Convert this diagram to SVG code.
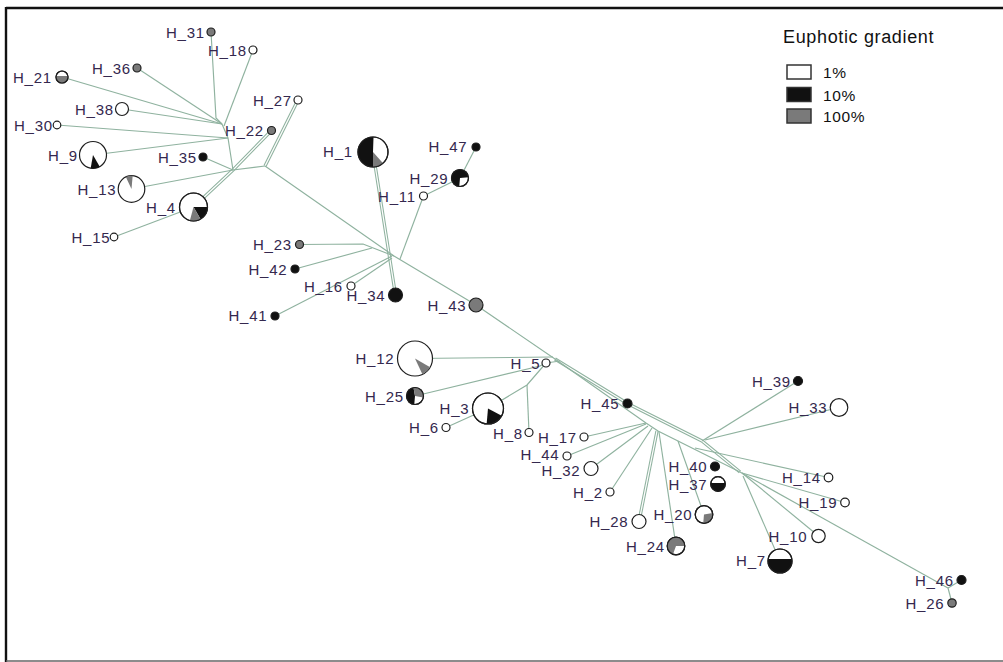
<svg xmlns="http://www.w3.org/2000/svg" width="1003" height="662" viewBox="0 0 1003 662">
<style>
.e{fill:none;stroke:#8fb29f;stroke-width:1.15}
.d1{fill:none;stroke:#8fb29f;stroke-width:3.3}
.d2{fill:none;stroke:#ffffff;stroke-width:1.2}
.n{stroke:#1e1e1e;stroke-width:1.2}
.w{fill:#ffffff}
.k{fill:#111111}
.g{fill:#7a7a7a}
.pk{fill:#111111;stroke:none}
.pg{fill:#7a7a7a;stroke:none}
.lb{font-family:"Liberation Sans",Arial,sans-serif;font-size:15px;letter-spacing:0.8px;fill:#34284e;text-anchor:end}
.lg{font-family:"Liberation Sans",Arial,sans-serif;fill:#111111}
</style>
<rect x="0" y="0" width="1003" height="662" fill="#ffffff"/>
<g id="frame">
<line x1="6" y1="8" x2="1003" y2="8" stroke="#111" stroke-width="2.4"/>
<line x1="6" y1="7" x2="6" y2="662" stroke="#111" stroke-width="2.4"/>
<line x1="6" y1="661" x2="1003" y2="661" stroke="#666" stroke-width="1.6"/>
</g>
<g id="connectors">
<g id="double-under">
<path class="d1" d="M193.5,207 L233,170 L271.5,130.5"/>
<path class="d1" d="M298,100 L265,166"/>
<path class="d1" d="M373,152 L395.5,295"/>
<path class="d1" d="M639,521.5 L657,431"/>
<path class="d1" d="M555,359 L627.5,403.5 L702,441 L740,472"/>
</g>
<g id="double-over">
<path class="d2" d="M193.5,207 L233,170 L271.5,130.5"/>
<path class="d2" d="M298,100 L265,166"/>
<path class="d2" d="M373,152 L395.5,295"/>
<path class="d2" d="M639,521.5 L657,431"/>
<path class="d2" d="M555,359 L627.5,403.5 L702,441 L740,472"/>
</g>
<path class="e" d="M211,32 L216,118 L222,124"/>
<path class="e" d="M137,68 L222,124"/>
<path class="e" d="M62,77 L222,124"/>
<path class="e" d="M122,109 L222,124"/>
<path class="e" d="M253,50 L224,126"/>
<path class="e" d="M222,124 L228,138 L233,170"/>
<path class="e" d="M57,125 L228,138"/>
<path class="e" d="M93,155 L228,138"/>
<path class="e" d="M203,157 L233,170"/>
<path class="e" d="M131.5,189 L233,170"/>
<path class="e" d="M114,237 L193.5,207"/>
<path class="e" d="M233,170 L265,166"/>
<path class="e" d="M265,166 L394,256 L476,305 L555,359"/>
<path class="e" d="M299.5,244.5 L363,244 L394,256"/>
<path class="e" d="M295,269 L372,248"/>
<path class="e" d="M275,316 L392,256"/>
<path class="e" d="M351,286 L392,258"/>
<path class="e" d="M423.5,196 L400,259"/>
<path class="e" d="M460,178 L423.5,196"/>
<path class="e" d="M476,147 L460,178"/>
<path class="e" d="M415,358.5 L553,357"/>
<path class="e" d="M546,363 L560,361"/>
<path class="e" d="M415,396 L540,366 L546,363"/>
<path class="e" d="M488,408.5 L527,385 L546,363"/>
<path class="e" d="M529,432.5 L527,385"/>
<path class="e" d="M446,427.5 L488,408.5"/>
<path class="e" d="M555,359 L646,423 L658,431 L740,472"/>
<path class="e" d="M584,437 L646,423"/>
<path class="e" d="M567,456 L646,424"/>
<path class="e" d="M591,468.5 L648,426"/>
<path class="e" d="M610,492 L652,428"/>
<path class="e" d="M676,546 L659,432"/>
<path class="e" d="M704,514.5 L678,441"/>
<path class="e" d="M798,381 L702,441"/>
<path class="e" d="M839,407.5 L705,440"/>
<path class="e" d="M828.5,477.5 L695,448"/>
<path class="e" d="M845,502.5 L742,473"/>
<path class="e" d="M818.5,536 L742,473"/>
<path class="e" d="M780,561 L743,476"/>
<path class="e" d="M740,472 L948,588"/>
<path class="e" d="M948,588 L961.5,580"/>
<path class="e" d="M948,588 L952,603"/>
</g>
<g id="nodes">
<g id="H_31"><circle class="n g" cx="211" cy="32" r="4"/><text class="lb" x="205" y="37.5">H_31</text></g>
<g id="H_18"><circle class="n w" cx="253" cy="50" r="4"/><text class="lb" x="247" y="55.5">H_18</text></g>
<g id="H_36"><circle class="n g" cx="137" cy="68" r="4"/><text class="lb" x="131" y="73.5">H_36</text></g>
<g id="H_21"><circle class="n w" cx="62" cy="77" r="6"/><path class="pg" transform="translate(62,77)" d="M5.92,-1A6,6 0 1 1 -5.92,-1Z"/><circle class="n" fill="none" cx="62" cy="77" r="6"/><text class="lb" x="52" y="82.5">H_21</text></g>
<g id="H_38"><circle class="n w" cx="122" cy="109" r="6.5"/><text class="lb" x="114" y="114.5">H_38</text></g>
<g id="H_30"><circle class="n w" cx="57" cy="125" r="3.8"/><text class="lb" x="53" y="130.5">H_30</text></g>
<g id="H_27"><circle class="n w" cx="298" cy="100" r="4"/><text class="lb" x="292" y="105.5">H_27</text></g>
<g id="H_22"><circle class="n g" cx="271.5" cy="130.5" r="4"/><text class="lb" x="264" y="136">H_22</text></g>
<g id="H_9"><circle class="n w" cx="93" cy="155" r="13.5"/><path class="pk" transform="translate(93,155)" d="M0,0L6.75,11.69A13.5,13.5 0 0 1 -2.34,13.29Z"/><text class="lb" x="78" y="160.5">H_9</text></g>
<g id="H_35"><circle class="n k" cx="203" cy="157" r="4"/><text class="lb" x="197" y="162.5">H_35</text></g>
<g id="H_13"><circle class="n w" cx="131.5" cy="189" r="13.3"/><path class="pg" transform="translate(131.5,189)" d="M0,0L-5.62,-12.05A13.3,13.3 0 0 1 1.16,-13.25Z"/><text class="lb" x="116.5" y="194.5">H_13</text></g>
<g id="H_4"><circle class="n w" cx="193.5" cy="207" r="14"/><path class="pk" transform="translate(193.5,207)" d="M0,0L14,0A14,14 0 0 1 7,12.12Z"/><path class="pg" transform="translate(193.5,207)" d="M0,0L7,12.12A14,14 0 0 1 -3.62,13.52Z"/><circle class="n" fill="none" cx="193.5" cy="207" r="14"/><text class="lb" x="176" y="213">H_4</text></g>
<g id="H_15"><circle class="n w" cx="114" cy="237" r="3.8"/><text class="lb" x="110.5" y="242.5">H_15</text></g>
<g id="H_1"><circle class="n w" cx="373" cy="152" r="15"/><path class="pk" transform="translate(373,152)" d="M0,0L0,15A15,15 0 1 1 0.52,-14.99Z"/><path class="pg" transform="translate(373,152)" d="M0,0L10.04,11.15A15,15 0 0 1 0,15Z"/><circle class="n" fill="none" cx="373" cy="152" r="15"/><text class="lb" x="353" y="157">H_1</text></g>
<g id="H_47"><circle class="n k" cx="476" cy="147" r="4"/><text class="lb" x="467.5" y="152">H_47</text></g>
<g id="H_29"><circle class="n w" cx="460" cy="178" r="8.5"/><path class="pk" transform="translate(460,178)" d="M0,0L-0.74,8.47A8.5,8.5 0 1 1 8.47,-0.74Z"/><circle class="n" fill="none" cx="460" cy="178" r="8.5"/><text class="lb" x="448.5" y="183.5">H_29</text></g>
<g id="H_11"><circle class="n w" cx="423.5" cy="196" r="4"/><text class="lb" x="416" y="201.5">H_11</text></g>
<g id="H_23"><circle class="n g" cx="299.5" cy="244.5" r="4"/><text class="lb" x="292" y="250">H_23</text></g>
<g id="H_42"><circle class="n k" cx="295" cy="269" r="4"/><text class="lb" x="287.5" y="274.5">H_42</text></g>
<g id="H_16"><circle class="n w" cx="351" cy="286" r="4"/><text class="lb" x="343" y="291.5">H_16</text></g>
<g id="H_34"><circle class="n k" cx="395.5" cy="295" r="7"/><text class="lb" x="385.5" y="300.5">H_34</text></g>
<g id="H_41"><circle class="n k" cx="275" cy="316" r="4"/><text class="lb" x="267.5" y="321">H_41</text></g>
<g id="H_43"><circle class="n g" cx="476" cy="305" r="7"/><text class="lb" x="466.5" y="310.5">H_43</text></g>
<g id="H_12"><circle class="n w" cx="415" cy="358.5" r="17.5"/><path class="pg" transform="translate(415,358.5)" d="M0,0L15.16,8.75A17.5,17.5 0 0 1 7.4,15.86Z"/><text class="lb" x="394.5" y="364">H_12</text></g>
<g id="H_5"><circle class="n w" cx="546" cy="363" r="4"/><text class="lb" x="540.5" y="368.5">H_5</text></g>
<g id="H_25"><circle class="n w" cx="415" cy="396" r="8.5"/><path class="pk" transform="translate(415,396)" d="M0,0L-0.74,8.47A8.5,8.5 0 0 1 -1.48,-8.37Z"/><path class="pg" transform="translate(415,396)" d="M0,0L-1.48,-8.37A8.5,8.5 0 0 1 8.37,1.48Z"/><circle class="n" fill="none" cx="415" cy="396" r="8.5"/><text class="lb" x="404" y="401.5">H_25</text></g>
<g id="H_3"><circle class="n w" cx="488" cy="408.5" r="15.5"/><path class="pk" transform="translate(488,408.5)" d="M0,0L13.69,7.28A15.5,15.5 0 0 1 -1.35,15.44Z"/><circle class="n" fill="none" cx="488" cy="408.5" r="15.5"/><text class="lb" x="469.5" y="413.5">H_3</text></g>
<g id="H_6"><circle class="n w" cx="446" cy="427.5" r="4"/><text class="lb" x="439" y="433">H_6</text></g>
<g id="H_8"><circle class="n w" cx="529" cy="432.5" r="4"/><text class="lb" x="523" y="439">H_8</text></g>
<g id="H_45"><circle class="n k" cx="627.5" cy="403.5" r="4.5"/><text class="lb" x="619.5" y="408.5">H_45</text></g>
<g id="H_17"><circle class="n w" cx="584" cy="437" r="4"/><text class="lb" x="577" y="442.5">H_17</text></g>
<g id="H_44"><circle class="n w" cx="567" cy="456" r="4"/><text class="lb" x="559.5" y="460">H_44</text></g>
<g id="H_32"><circle class="n w" cx="591" cy="468.5" r="7"/><text class="lb" x="580.5" y="475.5">H_32</text></g>
<g id="H_2"><circle class="n w" cx="610" cy="492" r="4"/><text class="lb" x="603" y="497.5">H_2</text></g>
<g id="H_28"><circle class="n w" cx="639" cy="521.5" r="7"/><text class="lb" x="628.5" y="527">H_28</text></g>
<g id="H_24"><circle class="n w" cx="676" cy="546" r="8.8"/><path class="pg" transform="translate(676,546)" d="M0,0L-3.01,8.27A8.8,8.8 0 1 1 8.8,0Z"/><circle class="n" fill="none" cx="676" cy="546" r="8.8"/><text class="lb" x="665" y="551.5">H_24</text></g>
<g id="H_20"><circle class="n w" cx="704" cy="514.5" r="8.8"/><path class="pg" transform="translate(704,514.5)" d="M0,0L8.67,-1.53A8.8,8.8 0 0 1 -0.77,8.77Z"/><circle class="n" fill="none" cx="704" cy="514.5" r="8.8"/><text class="lb" x="692.5" y="520">H_20</text></g>
<g id="H_40"><circle class="n k" cx="715" cy="466.5" r="4.5"/><text class="lb" x="707.5" y="472">H_40</text></g>
<g id="H_37"><circle class="n w" cx="718" cy="484" r="7.3"/><path class="pk" transform="translate(718,484)" d="M7.23,-1A7.3,7.3 0 1 1 -7.23,-1Z"/><circle class="n" fill="none" cx="718" cy="484" r="7.3"/><text class="lb" x="707.5" y="489.5">H_37</text></g>
<g id="H_39"><circle class="n k" cx="798" cy="381" r="4.5"/><text class="lb" x="791" y="386.5">H_39</text></g>
<g id="H_33"><circle class="n w" cx="839" cy="407.5" r="8.8"/><text class="lb" x="827.5" y="413">H_33</text></g>
<g id="H_14"><circle class="n w" cx="828.5" cy="477.5" r="4.3"/><text class="lb" x="821" y="483">H_14</text></g>
<g id="H_19"><circle class="n w" cx="845" cy="502.5" r="4.3"/><text class="lb" x="837.5" y="508">H_19</text></g>
<g id="H_10"><circle class="n w" cx="818.5" cy="536" r="6.7"/><text class="lb" x="807.5" y="541.5">H_10</text></g>
<g id="H_7"><circle class="n w" cx="780" cy="561" r="12"/><path class="pk" transform="translate(780,561)" d="M11.83,-2A12,12 0 1 1 -11.83,-2Z"/><circle class="n" fill="none" cx="780" cy="561" r="12"/><text class="lb" x="766" y="566">H_7</text></g>
<g id="H_46"><circle class="n k" cx="961.5" cy="580" r="4.5"/><text class="lb" x="954" y="586">H_46</text></g>
<g id="H_26"><circle class="n g" cx="952" cy="603" r="4.2"/><text class="lb" x="944.5" y="608.5">H_26</text></g>
</g>
<g id="legend">
<text class="lg" x="783" y="43" font-size="18" letter-spacing="0.65">Euphotic gradient</text>
<rect x="787" y="65" width="24" height="14" fill="#ffffff" stroke="#333" stroke-width="1.5"/>
<rect x="787" y="87.5" width="24" height="14" fill="#111111" stroke="#333" stroke-width="1.5"/>
<rect x="787" y="109" width="24" height="14" fill="#7a7a7a" stroke="#333" stroke-width="1.5"/>
<text class="lg" x="823" y="78" font-size="15.5" letter-spacing="0.6">1%</text>
<text class="lg" x="823" y="101" font-size="15.5" letter-spacing="0.6">10%</text>
<text class="lg" x="823" y="122" font-size="15.5" letter-spacing="0.6">100%</text>
</g>
</svg>
